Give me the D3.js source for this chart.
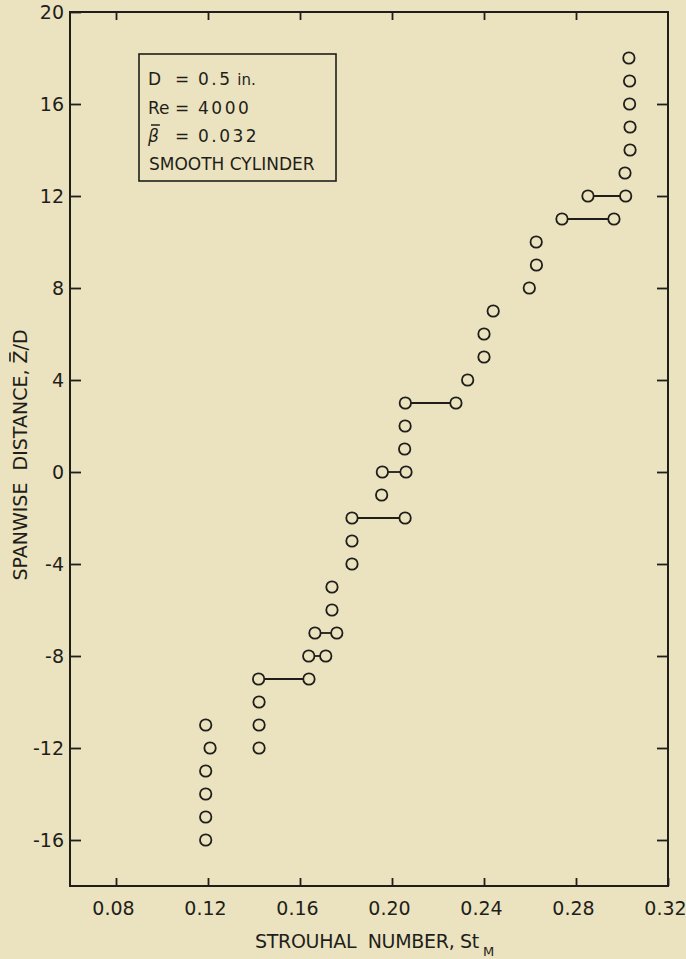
<!DOCTYPE html>
<html>
<head>
<meta charset="utf-8">
<script src="https://cdn.jsdelivr.net/npm/d3@7"></script>
<style>
  html, body { margin: 0; padding: 0; background: #ebe3c0; }
  svg { display: block; }
  text { font-family: "DejaVu Sans", sans-serif; fill: #1f1e1a; }
</style>
</head>
<body>
<svg id="chart" width="686" height="959"></svg>
<script>
// Strouhal number measured along the span of a smooth cylinder
const strouhalTicks = [0.08, 0.12, 0.16, 0.20, 0.24, 0.28, 0.32];
const spanTicks = [20, 16, 12, 8, 4, 0, -4, -8, -12, -16];

// one entry per measured peak: spanwise station and its Strouhal number
const pointZ = [18, 17, 16, 15, 14, 13, 12, 12, 11, 11, 10, 9, 8, 7, 6, 5, 4,
  3, 3, 2, 1, 0, 0, -1, -2, -2, -3, -4, -5, -6, -7, -7, -8, -8, -9, -9,
  -10, -11, -12, -11, -12, -13, -14, -15, -16];
const pointSt = [0.3030, 0.3033, 0.3033, 0.3035, 0.3035, 0.3013, 0.2852, 0.3016,
  0.2739, 0.2965, 0.2627, 0.2628, 0.2597, 0.2440, 0.2400, 0.2400, 0.2329,
  0.2058, 0.2278, 0.2057, 0.2055, 0.1958, 0.2061, 0.1955, 0.1826, 0.2057,
  0.1826, 0.1826, 0.1739, 0.1739, 0.1665, 0.1760, 0.1638, 0.1712, 0.1420, 0.1639,
  0.1422, 0.1422, 0.1422, 0.1190, 0.1209, 0.1190, 0.1190, 0.1190, 0.1190];
// stations where two frequencies were present together (joined by a bar)
const joinedZ = [12, 11, 3, 0, -2, -7, -8, -9];

const legendNames = ["D", "Re", "\u03B2"];
const legendValues = ["0.5", "4000", "0.032"];
const legendUnits = [" in.", "", ""];
const legendNote = "SMOOTH CYLINDER";

const ink = "#1f1e1a";
const paper = "#ebe3c0";

const svg = d3.select("#chart");
const frame = { left: 70, right: 668, top: 12, bottom: 886 };

const x = d3.scaleLinear().domain([0.06, 0.32]).range([frame.left, frame.right]);
const y = d3.scaleLinear().domain([-18, 20]).range([frame.bottom, frame.top]);

// axes: all ticks point into the plot
const bottomAxis = d3.axisBottom(x).tickValues(strouhalTicks)
  .tickFormat(d3.format(".2f")).tickSize(-8).tickPadding(16);
const topAxis = d3.axisTop(x).tickValues(strouhalTicks.slice(0, -1))
  .tickFormat("").tickSize(-8);
const leftAxis = d3.axisLeft(y).tickValues(spanTicks)
  .tickFormat(d => d < 0 ? "-" + Math.abs(d) : String(d)).tickSize(-11).tickPadding(6);
const rightAxis = d3.axisRight(y).tickValues(spanTicks.slice(1))
  .tickFormat("").tickSize(-11);

function styleAxis(g) {
  g.select(".domain").remove();
  g.selectAll(".tick line").attr("stroke", ink).attr("stroke-width", 1.8);
  g.selectAll(".tick text").attr("fill", ink).style("font-size", "19px")
    .style("font-family", "DejaVu Sans, sans-serif");
}

const gb = svg.append("g").attr("transform", `translate(0,${frame.bottom})`).call(bottomAxis).call(styleAxis);
gb.selectAll(".tick text").attr("dx", "-3");
svg.append("g").attr("transform", `translate(0,${frame.top})`).call(topAxis).call(styleAxis);
svg.append("g").attr("transform", `translate(${frame.left},0)`).call(leftAxis).call(styleAxis);
svg.append("g").attr("transform", `translate(${frame.right},0)`).call(rightAxis).call(styleAxis);

// plot frame
svg.append("rect")
  .attr("x", frame.left).attr("y", frame.top)
  .attr("width", frame.right - frame.left).attr("height", frame.bottom - frame.top)
  .attr("fill", "none").attr("stroke", ink).attr("stroke-width", 2);

// bars joining simultaneous frequencies
const joined = joinedZ.map(z => {
  const vals = pointSt.filter((s, i) => pointZ[i] === z);
  return { z, lo: d3.min(vals), hi: d3.max(vals) };
});
svg.append("g").selectAll("line").data(joined).join("line")
  .attr("x1", d => x(d.lo)).attr("x2", d => x(d.hi))
  .attr("y1", d => y(d.z)).attr("y2", d => y(d.z))
  .attr("stroke", ink).attr("stroke-width", 1.8);

// measured points
const points = pointZ.map((z, i) => ({ z, st: pointSt[i] }));
svg.append("g").selectAll("circle").data(points).join("circle")
  .attr("cx", d => x(d.st)).attr("cy", d => y(d.z)).attr("r", 5.7)
  .attr("fill", paper).attr("stroke", ink).attr("stroke-width", 1.8);

// axis titles
const xt = svg.append("text").attr("x", 255).attr("y", 948)
  .attr("xml:space", "preserve")
  .style("font-size", "19px").style("letter-spacing", "-0.3px");
xt.append("tspan").text("STROUHAL  NUMBER, St");
xt.append("tspan").attr("dx", 4).attr("dy", 8).style("font-size", "13px").text("M");

const yg = svg.append("g").attr("transform", "translate(27,455) rotate(-90)");
const yt = yg.append("text").attr("text-anchor", "middle")
  .attr("xml:space", "preserve")
  .style("font-size", "19px")
  .text("SPANWISE  DISTANCE, Z/D");
{
  const idx = yt.text().indexOf("Z");
  const b = yt.node().getExtentOfChar(idx);
  yg.append("line").attr("x1", b.x + 2).attr("x2", b.x + b.width - 2)
    .attr("y1", b.y + 1).attr("y2", b.y + 1)
    .attr("stroke", ink).attr("stroke-width", 1.6);
}

// legend box
const lg = svg.append("g");
lg.append("rect").attr("x", 139).attr("y", 54).attr("width", 197).attr("height", 127)
  .attr("fill", "none").attr("stroke", ink).attr("stroke-width", 1.6);
legendNames.forEach((name, i) => {
  const by = 85 + i * 28.5;
  const t = lg.append("text").attr("x", 148).attr("y", by).style("font-size", "17px")
    .style("font-style", i === 2 ? "italic" : "normal").text(name);
  if (i === 2) {
    const b = t.node().getExtentOfChar(0);
    lg.append("line").attr("x1", b.x + 3).attr("x2", b.x + b.width + 1)
      .attr("y1", b.y - 1).attr("y2", b.y - 1)
      .attr("stroke", ink).attr("stroke-width", 1.5);
  }
  lg.append("text").attr("x", 182).attr("y", by).attr("text-anchor", "middle")
    .style("font-size", "17px").text("=");
  const v = lg.append("text").attr("x", 198).attr("y", by).attr("xml:space", "preserve");
  v.append("tspan").style("font-size", "17px").style("letter-spacing", "2.5px").text(legendValues[i]);
  if (legendUnits[i]) {
    v.append("tspan").style("font-size", "15px").text(legendUnits[i]);
  }
});
lg.append("text").attr("x", 149).attr("y", 170).style("font-size", "17px")
  .text(legendNote);
</script>
</body>
</html>
